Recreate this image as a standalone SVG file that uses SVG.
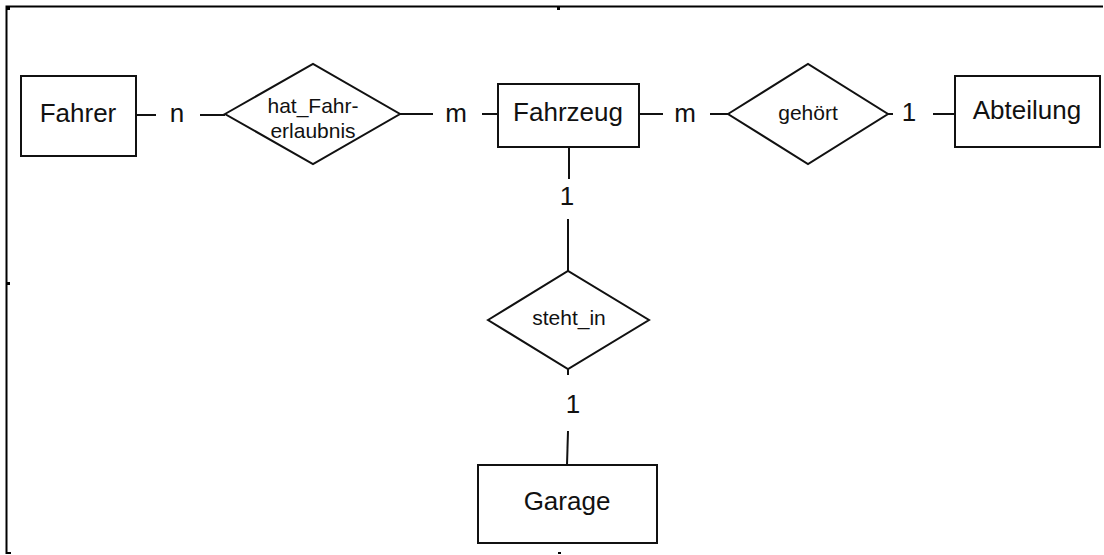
<svg xmlns="http://www.w3.org/2000/svg" width="1104" height="555" viewBox="0 0 1104 555">
<style>
.shape{fill:#fff;stroke:#111;stroke-width:2}
.conn line{stroke:#111;stroke-width:2}
.frame{stroke:#000;stroke-width:2;fill:none}
text{font-family:"Liberation Sans",Arial,sans-serif;fill:#111;text-anchor:middle}
.big{font-size:26px}
.small{font-size:21px}
</style>
<rect width="1104" height="555" fill="#fff"/>
<g id="frame">
<path class="frame" d="M6.5,554 V6.5 H1103"/>
<line class="frame" x1="6" y1="553" x2="11" y2="553"/>
<rect x="6" y="6" width="4" height="4" fill="#000"/>
<rect x="557" y="6" width="3" height="4" fill="#000"/>
<rect x="7" y="282" width="3" height="3" fill="#000"/>
<rect x="558" y="552" width="3" height="2" fill="#000"/>
</g>
<g class="conn" id="connectors">
<line x1="136" y1="115" x2="156" y2="115"/>
<line x1="200" y1="115" x2="225" y2="115"/>
<line x1="400" y1="114" x2="433" y2="114"/>
<line x1="482" y1="114" x2="498" y2="114"/>
<line x1="639" y1="114" x2="663" y2="114"/>
<line x1="710" y1="114" x2="728" y2="114"/>
<line x1="888" y1="114" x2="893" y2="114"/>
<line x1="933" y1="114" x2="955" y2="114"/>
<line x1="569" y1="147" x2="569" y2="179"/>
<line x1="568" y1="219" x2="568" y2="271"/>
<line x1="568" y1="369" x2="568" y2="375"/>
<line x1="568" y1="431" x2="567" y2="465"/>
<text class="big" x="177" y="122">n</text>
<text class="big" x="456" y="122">m</text>
<text class="big" x="685" y="122">m</text>
<text class="big" x="909" y="121">1</text>
<text class="big" x="567" y="205">1</text>
<text class="big" x="573" y="413">1</text>
</g>
<g id="Fahrer">
<rect class="shape" x="21" y="76" width="115" height="80"/>
<text class="big" x="78" y="122">Fahrer</text>
</g>
<g id="hat_Fahrerlaubnis">
<polygon class="shape" points="225,114 313,64 400,114 313,164"/>
<text class="small" x="313" y="113">hat_Fahr-</text>
<text class="small" x="313" y="138">erlaubnis</text>
</g>
<g id="Fahrzeug">
<rect class="shape" x="498" y="84" width="141" height="63"/>
<text class="big" x="568" y="121">Fahrzeug</text>
</g>
<g id="gehoert">
<polygon class="shape" points="728,114 808,64 888,114 808,164"/>
<text class="small" x="808" y="120">gehört</text>
</g>
<g id="Abteilung">
<rect class="shape" x="955" y="76" width="145" height="71"/>
<text class="big" x="1027" y="119">Abteilung</text>
</g>
<g id="steht_in">
<polygon class="shape" points="488,320 568,271 649,320 568,369"/>
<text class="small" x="569" y="325">steht_in</text>
</g>
<g id="Garage">
<rect class="shape" x="478" y="465" width="179" height="78"/>
<text class="big" x="567" y="510">Garage</text>
</g>
</svg>
